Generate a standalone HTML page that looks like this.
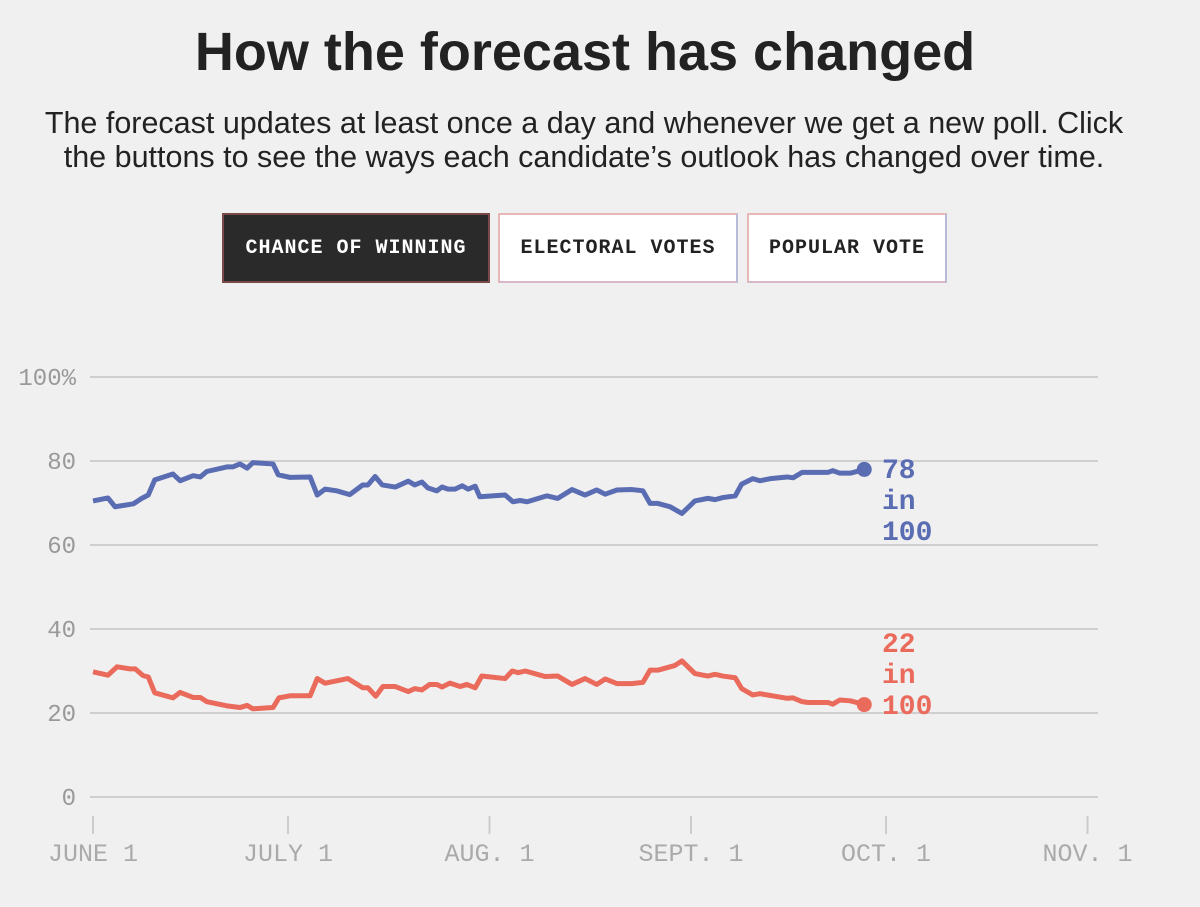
<!DOCTYPE html>
<html><head><meta charset="utf-8"><style>
body{margin:0;width:1200px;height:907px;background:#f0f0f0;font-family:"Liberation Sans",sans-serif;overflow:hidden;position:relative}
h1{position:absolute;top:21px;left:0;width:1170px;text-align:center;margin:0;font-size:54px;font-weight:bold;color:#222}
.sub{position:absolute;top:106px;left:0;width:1168px;text-align:center;font-size:30.5px;line-height:34px;color:#222}
.btn{position:absolute;top:213px;height:70px;box-sizing:border-box;border:2px solid #e8b8b8;border-right-color:#b8bcd8;border-bottom-color:#d8b8c8;background:#fff;font-family:"Liberation Mono",monospace;font-weight:bold;font-size:20px;letter-spacing:1px;color:#222;display:flex;align-items:center;justify-content:center}
.btn.on{background:#2a2a2a;color:#fff;border-color:#7a4a4a}
svg{position:absolute;left:0;top:0}
</style></head><body>
<h1>How the forecast has changed</h1>
<div class="sub">The forecast updates at least once a day and whenever we get a new poll. Click<br>the buttons to see the ways each candidate’s outlook has changed over time.</div>
<div class="btn on" style="left:222px;width:268px">CHANCE OF WINNING</div>
<div class="btn" style="left:498px;width:240px">ELECTORAL VOTES</div>
<div class="btn" style="left:747px;width:200px">POPULAR VOTE</div>
<svg id="chart" width="1200" height="907"></svg>
<script>
const yTicks=[0,20,40,60,80,100];
const yTickLabels=["0","20","40","60","80","100%"];
const xTickDays=[0,30,61,92,122,153];
const xTickLabels=["JUNE 1","JULY 1","AUG. 1","SEPT. 1","OCT. 1","NOV. 1"];
const blueDays=[0,2.3,3.4,6.2,7.5,8.5,9.5,12.3,13.4,15.4,16.5,17.5,20.6,21.5,22.6,23.7,24.6,27.7,28.5,30.3,33.4,34.5,35.7,37.5,39.5,41.5,42.3,43.4,44.5,46.5,48.5,49.5,50.6,51.5,52.9,53.7,54.6,55.7,56.8,57.7,58.8,59.5,63.4,64.6,65.7,66.8,69.8,71.5,73.7,75.7,77.5,78.8,80.6,82.9,84.6,85.7,86.9,88.8,90.6,92.6,94.6,95.7,96.9,98.8,99.8,101.5,102.6,104.2,106.8,107.7,109.1,110,113.1,113.8,114.9,116.5,118.5];
const blueValues=[70.5,71.2,69.1,69.8,71.1,71.9,75.5,76.9,75.3,76.5,76.2,77.5,78.6,78.6,79.3,78.3,79.6,79.3,76.7,76.1,76.2,71.9,73.3,72.9,72.0,74.3,74.3,76.3,74.3,73.8,75.2,74.3,75.0,73.6,72.9,73.8,73.3,73.3,74.1,73.3,74.0,71.5,71.9,70.3,70.6,70.3,71.7,71.1,73.2,71.9,73.1,72.1,73.1,73.2,72.9,69.9,69.9,69.1,67.5,70.5,71.1,70.8,71.3,71.7,74.5,75.8,75.3,75.8,76.2,76.0,77.3,77.3,77.3,77.7,77.1,77.1,77.9];
const redDays=[0,2.3,3.7,5.7,6.5,7.7,8.5,9.5,12.3,13.4,15.4,16.5,17.5,20.6,22.6,23.7,24.6,27.7,28.6,30.3,33.4,34.5,35.7,39.2,41.5,42.3,43.5,44.6,46.5,48.5,49.5,50.6,51.8,52.9,53.7,54.9,56.5,57.5,58.8,59.8,63.4,64.5,65.4,66.5,69.5,71.5,73.7,75.7,77.5,78.8,80.6,82.9,84.6,85.7,86.9,89.5,90.6,92.6,94.6,95.7,96.9,98.8,99.8,101.5,102.6,106.8,107.7,109.1,110,113.1,113.8,114.9,116.5,118.5];
const redValues=[29.8,29.0,31.0,30.5,30.5,28.9,28.6,24.8,23.6,24.9,23.7,23.7,22.7,21.7,21.3,21.8,21.0,21.3,23.6,24.1,24.1,28.2,27.1,28.2,26.0,26.0,24.0,26.3,26.3,25.1,25.8,25.5,26.8,26.8,26.2,27.1,26.3,26.8,26.0,28.8,28.2,30.0,29.6,30.0,28.7,28.8,26.8,28.2,26.8,28.1,27.0,27.0,27.3,30.2,30.2,31.3,32.4,29.4,28.8,29.2,28.8,28.4,25.8,24.3,24.6,23.5,23.6,22.7,22.5,22.5,22.1,23.1,22.9,22.1];
const blueFinal=78, redFinal=22;

const NS="http://www.w3.org/2000/svg";
const svg=document.getElementById('chart');
const x=d=>93+d*6.5;
const y=v=>797-v*4.2;
function mk(tag,attrs,parent){const e=document.createElementNS(NS,tag);for(const k in attrs)e.setAttribute(k,attrs[k]);(parent||svg).appendChild(e);return e;}
yTicks.forEach((t,i)=>{
  const g=mk('line',{x1:90,x2:1098,y1:y(t),y2:y(t),stroke:'#cfcfcf','stroke-width':2});
  
  
  const tx=mk('text',{x:76,y:y(t)+8,'text-anchor':'end','font-family':'Liberation Mono, monospace','font-size':24,fill:'#999'});
  tx.textContent=yTickLabels[i];
  
  
});
xTickDays.forEach((d,i)=>{
  const l=mk('line',{x1:x(d),x2:x(d),y1:816,y2:834,stroke:'#ccc','stroke-width':2});
  
  
  const tx=mk('text',{x:x(d),y:861,'text-anchor':'middle','font-family':'Liberation Mono, monospace','font-size':25,fill:'#aaa'});
  tx.textContent=xTickLabels[i];
  
  
});
function series(days,vals,color,name,final,ly){
  const p=mk('polyline',{points:days.map((d,i)=>x(d)+','+y(vals[i])).join(' '),fill:'none',stroke:color,'stroke-width':5,'stroke-linejoin':'round'});
  
  
  const ld=days[days.length-1];
  const c=mk('circle',{cx:x(ld)+1,cy:y(final),r:7.5,fill:color});
  
  
  [String(final),'in','100'].forEach((s,i)=>{
    const t=mk('text',{x:882,y:ly+i*31,'font-family':'Liberation Mono, monospace','font-weight':'bold','font-size':28,fill:color});
    t.textContent=s;
    
    
  });
}
series(blueDays,blueValues,'#5a6db3','blue',blueFinal,478);
series(redDays,redValues,'#ea6a5b','red',redFinal,652);
</script>
</body></html>
